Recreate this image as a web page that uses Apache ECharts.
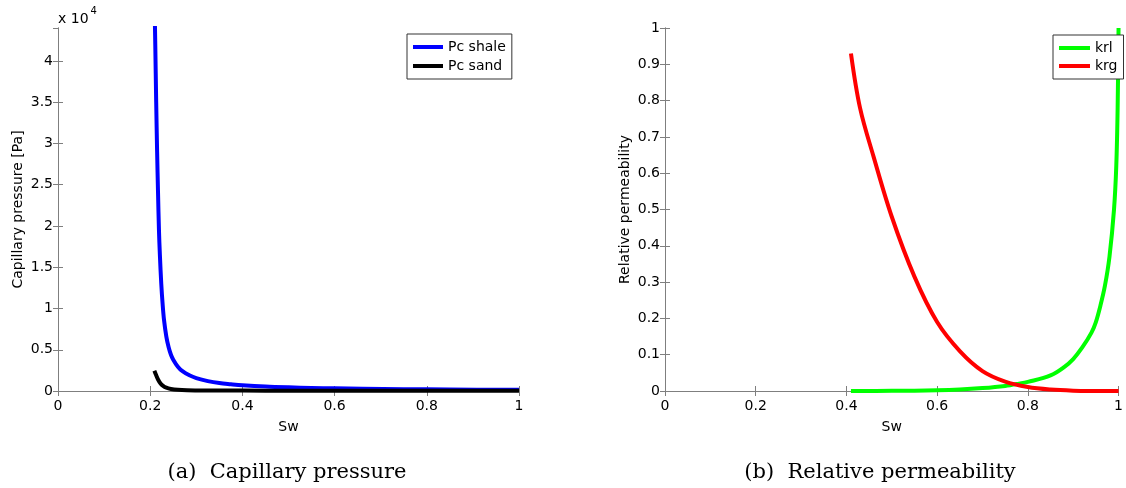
<!DOCTYPE html>
<html>
<head>
<meta charset="utf-8">
<script src="https://cdn.jsdelivr.net/npm/echarts@6/dist/echarts.min.js"></script>
<style>
html,body{margin:0;padding:0;background:#fff;}
#c{width:1126px;height:488px;}
</style>
</head>
<body>
<div id="c"></div>
<script>
// ---- data ----
const swShale = [0.2085,0.211,0.213,0.215,0.217,0.219,0.221,0.224,0.227,0.230,0.235,0.240,0.245,0.250,0.260,0.270,0.285,0.300,0.325,0.350,0.375,0.400,0.450,0.500,0.550,0.600,0.660,0.750,0.850,1.000];
const pcShale = [50000,42000,35000,29000,24000,19500,16500,13000,10500,8600,6600,5300,4400,3800,2950,2400,1900,1560,1200,960,820,700,540,440,370,320,270,220,180,140];
const swSand = [0.209,0.213,0.217,0.222,0.228,0.235,0.245,0.260,0.280,0.320,0.400,0.500,0.700,1.000];
const pcSand = [2450,1900,1400,950,620,400,250,150,100,70,50,40,30,20];
const swKrl = [0.41,0.50,0.60,0.65,0.70,0.75,0.78,0.80,0.85,0.88,0.90,0.92,0.94,0.95,0.96,0.97,0.98,0.99,0.995,0.998,1.0];
const krl = [0,0.0004,0.002,0.004,0.008,0.014,0.02,0.025,0.043,0.066,0.088,0.12,0.16,0.19,0.235,0.29,0.37,0.5,0.62,0.78,1.0];
const swKrg = [0.41,0.43,0.46,0.50,0.55,0.60,0.65,0.70,0.75,0.80,0.85,0.90,0.95,1.0];
const krg = [0.93,0.78,0.645,0.48,0.315,0.19,0.11,0.055,0.026,0.011,0.004,0.001,0.0002,0];
const legendLeft = ['Pc shale','Pc sand'];
const legendRight = ['krl','krg'];

const pair = (xs, ys) => xs.map((x, i) => [x, ys[i]]);

const FONT = 'DejaVu Sans';
const AX = '#7f7f7f';
const lbl = {color:'#000', fontFamily:FONT, fontSize:14};

function xAxes(grid){
  const base = {type:'value', gridIndex:grid, min:0, max:1, interval:0.2,
    splitLine:{show:false}, axisLine:{show:true, lineStyle:{color:AX, width:1}},
    axisTick:{show:true, inside:true, length:5, lineStyle:{color:AX}}};
  return [
    Object.assign({}, base, {position:'bottom', name:'Sw', nameLocation:'middle', nameGap:29,
      nameTextStyle:lbl, axisLabel:Object.assign({margin:8, formatter:v=>String(+v.toFixed(1))}, lbl)}),
    Object.assign({}, base, {position:'top', axisLabel:{show:false}})
  ];
}
function yAxes(grid, max, interval, name, fmt, showMax){
  const base = {type:'value', gridIndex:grid, min:0, max:max, interval:interval,
    splitLine:{show:false}, axisLine:{show:true, lineStyle:{color:AX, width:1}},
    axisTick:{show:true, inside:true, length:5, lineStyle:{color:AX}}};
  return [
    Object.assign({}, base, {position:'left', name:name, nameLocation:'middle', nameGap:33,
      nameTextStyle:lbl, axisLabel:Object.assign({margin:5, showMaxLabel:showMax, formatter:fmt}, lbl)}),
    Object.assign({}, base, {position:'right', axisLabel:{show:false}})
  ];
}

const chart = echarts.init(document.getElementById('c'), null, {renderer:'canvas'});
const line = (name, data, color, xi, yi) => ({
  name, type:'line', data, xAxisIndex:xi, yAxisIndex:yi, showSymbol:false, symbol:'none',
  smooth:0.35, clip:true, lineStyle:{color, width:4, join:'round'}, itemStyle:{color}
});

chart.setOption({
  animation:false,
  backgroundColor:'#fff',
  grid:[
    {left:58, top:28, width:461, height:363, show:false},
    {left:665, top:28, width:460, height:363, show:false}
  ],
  xAxis:[...xAxes(0), ...xAxes(1)],
  yAxis:[
    ...yAxes(0, 44000, 5000, 'Capillary pressure [Pa]', v => v === 0 ? '0' : String(v/10000), false),
    ...yAxes(1, 1, 0.1, 'Relative permeability', v => String(+v.toFixed(1)), true)
  ],
  legend:[
    {data:legendLeft, orient:'vertical', left:407, top:34, itemWidth:30, itemHeight:4, itemGap:5,
     icon:'rect', padding:[6,6,6,6], borderColor:'#333', borderWidth:1, backgroundColor:'#fff',
     textStyle:{color:'#000', fontFamily:FONT, fontSize:14}, selectedMode:false},
    {data:legendRight, orient:'vertical', left:1053, top:35, itemWidth:31, itemHeight:4, itemGap:4,
     icon:'rect', padding:[6,6,6,6], borderColor:'#333', borderWidth:1, backgroundColor:'#fff',
     textStyle:{color:'#000', fontFamily:FONT, fontSize:14}, selectedMode:false}
  ],
  series:[
    line('Pc shale', pair(swShale, pcShale), '#0000ff', 0, 0),
    line('Pc sand', pair(swSand, pcSand), '#000000', 0, 0),
    line('krl', pair(swKrl, krl), '#00ff00', 2, 2),
    line('krg', pair(swKrg, krg), '#ff0000', 2, 2)
  ],
  graphic:[
    {type:'text', left:58, top:6, style:{
      text:'{b|x 10}{s|4}', rich:{
        b:{fontFamily:FONT, fontSize:14, fill:'#000', padding:[6,0,0,0]},
        s:{fontFamily:FONT, fontSize:10, fill:'#000', verticalAlign:'top', padding:[0,0,8,2]}}}},
    {type:'text', x:287, y:473, style:{text:'(a)  Capillary pressure', fontFamily:'DejaVu Serif', fontSize:21,
      fill:'#000', textAlign:'center', textVerticalAlign:'middle'}},
    {type:'text', x:880, y:473, style:{text:'(b)  Relative permeability', fontFamily:'DejaVu Serif', fontSize:21,
      fill:'#000', textAlign:'center', textVerticalAlign:'middle'}}
  ]
});
</script>
</body>
</html>
